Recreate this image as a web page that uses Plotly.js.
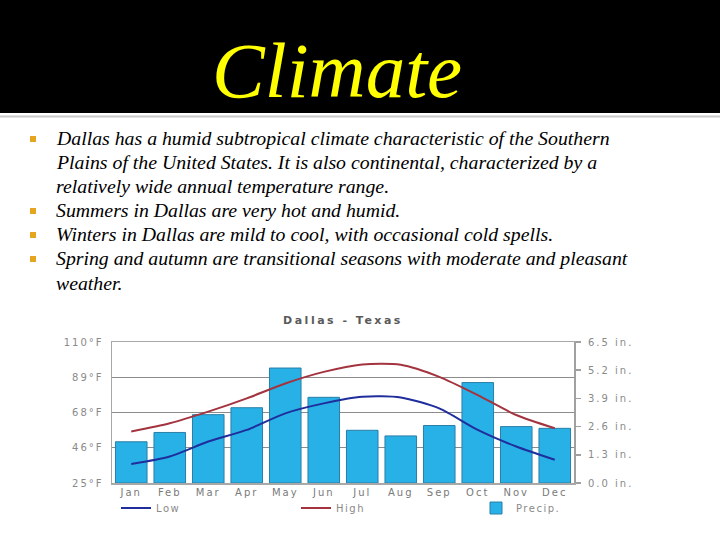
<!DOCTYPE html>
<html>
<head>
<meta charset="utf-8">
<script src="https://cdn.plot.ly/plotly-3.0.1.min.js"></script>
<style>
  html, body { margin: 0; padding: 0; background: #ffffff; }
  #chart { width: 720px; height: 540px; }
  .xtick text, .ytick text, .y2tick text { letter-spacing: 2px; }
  .gtitle { letter-spacing: 2.5px; }
  .legendtext { letter-spacing: 1.5px; }
</style>
</head>
<body>
<div id="chart"></div>
<script>
// ---- data ----
const months = ['Jan','Feb','Mar','Apr','May','Jun','Jul','Aug','Sep','Oct','Nov','Dec'];
const highF = [56, 61, 68, 76, 85, 92, 96.5, 96.3, 89, 78, 66, 58];
const lowF  = [36.5, 41, 50, 57, 67, 73, 77, 76.6, 70, 57, 47, 39];
const precipIn = [1.9, 2.33, 3.15, 3.47, 5.3, 3.95, 2.43, 2.17, 2.65, 4.63, 2.6, 2.52];
const tempTickVals = [25, 46.25, 67.5, 88.75, 110];
const tempTickText = ['25°F', '46°F', '68°F', '89°F', '110°F'];
const precipTickVals = [0, 1.3, 2.6, 3.9, 5.2, 6.5];
const precipTickText = ['0.0 in.', '1.3 in.', '2.6 in.', '3.9 in.', '5.2 in.', '6.5 in.'];
const slideTitle = 'Climate';
const chartTitle = 'Dallas - Texas';
const bulletLines = [
  {text: 'Dallas has a humid subtropical climate characteristic of the Southern', bullet: true},
  {text: 'Plains of the United States. It is also continental, characterized by a', bullet: false},
  {text: 'relatively wide annual temperature range.', bullet: false},
  {text: 'Summers in Dallas are very hot and humid.', bullet: true},
  {text: 'Winters in Dallas are mild to cool, with occasional cold spells.', bullet: true},
  {text: 'Spring and autumn are transitional seasons with moderate and pleasant', bullet: true},
  {text: 'weather.', bullet: false}
];

// ---- layout geometry (pixels) ----
const W = 720, H = 540;
const plotL = 112, plotR = 574, plotT = 342, plotB = 483;
const px2x = px => (px - plotL) / (plotR - plotL);
const py2y = py => (plotB - py) / (plotB - plotT);
const serif = 'Liberation Serif, DejaVu Serif, serif';

const traces = [
  {
    type: 'bar', name: 'Precip.', x: months, y: precipIn, yaxis: 'y',
    marker: {color: '#28b1e7', line: {color: '#2a7ea6', width: 1}},
    legendrank: 3, hoverinfo: 'skip'
  },
  {
    type: 'scatter', mode: 'lines', name: 'Low', x: months, y: lowF, yaxis: 'y2',
    line: {color: '#1f2e9c', width: 2, shape: 'spline', smoothing: 0.7},
    legendrank: 1
  },
  {
    type: 'scatter', mode: 'lines', name: 'High', x: months, y: highF, yaxis: 'y2',
    line: {color: '#a3343f', width: 2, shape: 'spline', smoothing: 0.7},
    legendrank: 2
  }
];

const shapes = [
  {type: 'rect', xref: 'paper', yref: 'paper', x0: px2x(0), x1: px2x(W), y0: py2y(113), y1: py2y(0),
   fillcolor: '#000000', line: {width: 0}, layer: 'below'},
  {type: 'line', xref: 'paper', yref: 'paper', x0: px2x(0), x1: px2x(W), y0: py2y(116.5), y1: py2y(116.5),
   line: {color: '#c8c8c8', width: 2}, layer: 'below'}
];

const annotations = [
  {text: slideTitle, xref: 'paper', yref: 'paper', x: px2x(337), y: py2y(70),
   xanchor: 'center', yanchor: 'middle', showarrow: false,
   font: {family: serif, size: 79, color: '#ffff00', style: 'italic'}}
];
const lineYs = [138, 162, 186, 210, 234, 258, 283];
bulletLines.forEach((ln, i) => {
  annotations.push({text: ln.text, xref: 'paper', yref: 'paper', x: px2x(54), y: py2y(lineYs[i]),
    xanchor: 'left', yanchor: 'middle', showarrow: false,
    font: {family: serif, size: 19.8, color: '#000000', style: 'italic'}});
  if (ln.bullet) {
    shapes.push({type: 'rect', xref: 'paper', yref: 'paper',
      x0: px2x(30), x1: px2x(36), y0: py2y(lineYs[i] + 4), y1: py2y(lineYs[i] - 2),
      fillcolor: '#e6a521', line: {width: 0}});
  }
});

const layout = {
  width: W, height: H,
  paper_bgcolor: '#ffffff', plot_bgcolor: '#ffffff',
  margin: {l: plotL, r: W - plotR, t: plotT, b: H - plotB, autoexpand: false},
  showlegend: true,
  title: {text: chartTitle, x: 0.5 * (plotL + plotR) / W, xanchor: 'center',
          y: 1 - 320 / H, yanchor: 'middle',
          font: {family: 'DejaVu Sans', size: 11, weight: 'bold', color: '#5a5a5a'}},
  bargap: 0.18,
  xaxis: {
    type: 'category', showgrid: false, showline: true, mirror: true,
    linecolor: '#a8a8a8', linewidth: 1.5, ticks: '', ticklabelstandoff: -1,
    tickfont: {family: 'DejaVu Sans', size: 10, color: '#7a7a7a'}, fixedrange: true
  },
  yaxis: {
    side: 'right', range: [0, 6.5], tickvals: precipTickVals, ticktext: precipTickText,
    showgrid: false, zeroline: false, showline: true, linecolor: '#a0a0a0', linewidth: 2,
    ticks: 'outside', ticklen: 5, tickcolor: '#a0a0a0', tickwidth: 1.5, ticklabelstandoff: 5,
    tickfont: {family: 'DejaVu Sans', size: 10, color: '#8a8a8a'}, fixedrange: true
  },
  yaxis2: {
    overlaying: 'y', side: 'left', range: [25, 110], tickvals: tempTickVals, ticktext: tempTickText,
    showgrid: true, gridcolor: '#8c8c8c', gridwidth: 1, zeroline: false,
    showline: true, linecolor: '#a8a8a8', linewidth: 1.5,
    ticks: 'outside', ticklen: 5, tickcolor: 'rgba(0,0,0,0)',
    tickfont: {family: 'DejaVu Sans', size: 10, color: '#8a8a8a'}, fixedrange: true
  },
  legend: {
    orientation: 'h', x: px2x(104), xanchor: 'left', y: py2y(508), yanchor: 'middle',
    borderwidth: 12, bordercolor: 'rgba(0,0,0,0)',
    entrywidth: 135, entrywidthmode: 'pixels', traceorder: 'normal',
    font: {family: 'DejaVu Sans', size: 10, color: '#8a8a8a'}, bgcolor: 'rgba(0,0,0,0)'
  },
  shapes: shapes,
  annotations: annotations
};

Plotly.newPlot('chart', traces, layout, {displayModeBar: false, staticPlot: true});
</script>
</body>
</html>
